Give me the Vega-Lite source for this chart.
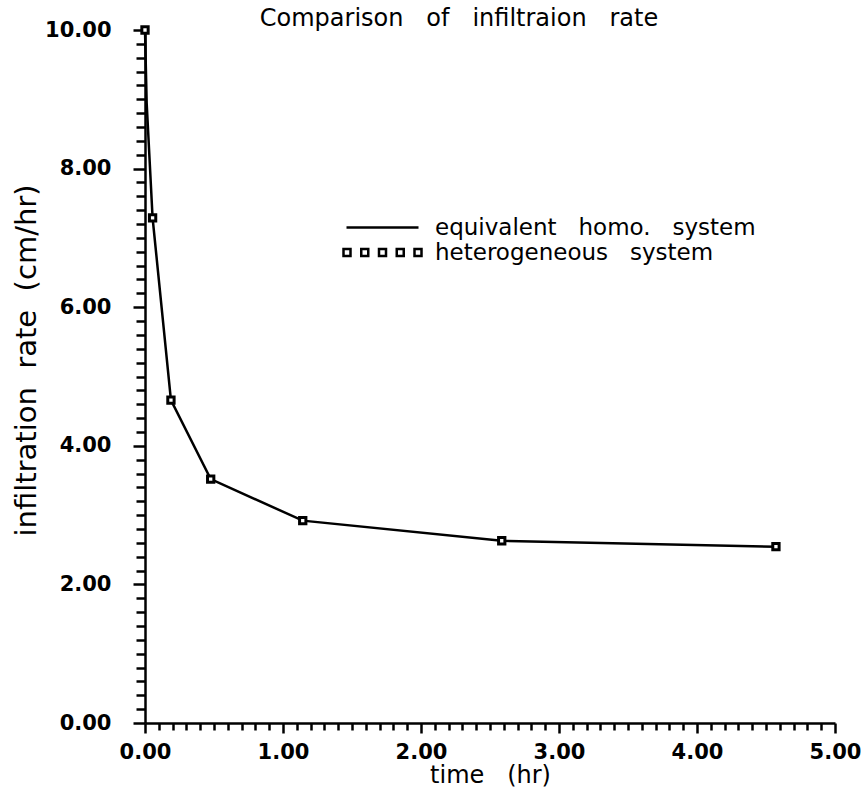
{
  "$schema": "https://vega.github.io/schema/vega-lite/v6.json",
  "width": 690,
  "height": 693,
  "autosize": "none",
  "padding": {"left": 145, "top": 30, "right": 28, "bottom": 77},
  "background": "white",
  "config": {
    "view": {"stroke": null},
    "font": "DejaVu Sans",
    "axis": {"grid": false, "domainColor": "black", "domainWidth": 2.5, "tickColor": "black", "tickWidth": 2.5, "labelColor": "black", "titleColor": "black"}
  },
  "title": {
    "text": "Comparison\u00a0\u00a0 of\u00a0\u00a0 infiltraion\u00a0\u00a0 rate",
    "frame": "group",
    "anchor": "middle",
    "dx": -31,
    "dy": 14,
    "offset": 2,
    "fontSize": 24,
    "fontWeight": "normal",
    "font": "DejaVu Sans",
    "color": "black"
  },
  "datasets": {
    "homo": [
      {"time": 0.0, "rate": 10.0, "series": "equivalent\u00a0\u00a0 homo.\u00a0\u00a0 system"},
      {"time": 0.012, "rate": 8.95, "series": "equivalent\u00a0\u00a0 homo.\u00a0\u00a0 system"},
      {"time": 0.055, "rate": 7.29, "series": "equivalent\u00a0\u00a0 homo.\u00a0\u00a0 system"},
      {"time": 0.188, "rate": 4.66, "series": "equivalent\u00a0\u00a0 homo.\u00a0\u00a0 system"},
      {"time": 0.476, "rate": 3.52, "series": "equivalent\u00a0\u00a0 homo.\u00a0\u00a0 system"},
      {"time": 1.143, "rate": 2.92, "series": "equivalent\u00a0\u00a0 homo.\u00a0\u00a0 system"},
      {"time": 2.585, "rate": 2.63, "series": "equivalent\u00a0\u00a0 homo.\u00a0\u00a0 system"},
      {"time": 4.572, "rate": 2.544, "series": "equivalent\u00a0\u00a0 homo.\u00a0\u00a0 system"}
    ],
    "hetero": [
      {"time": 0.0, "rate": 10.0, "series": "heterogeneous\u00a0\u00a0 system"},
      {"time": 0.055, "rate": 7.29, "series": "heterogeneous\u00a0\u00a0 system"},
      {"time": 0.188, "rate": 4.66, "series": "heterogeneous\u00a0\u00a0 system"},
      {"time": 0.476, "rate": 3.52, "series": "heterogeneous\u00a0\u00a0 system"},
      {"time": 1.143, "rate": 2.92, "series": "heterogeneous\u00a0\u00a0 system"},
      {"time": 2.585, "rate": 2.63, "series": "heterogeneous\u00a0\u00a0 system"},
      {"time": 4.572, "rate": 2.544, "series": "heterogeneous\u00a0\u00a0 system"}
    ]
  },
  "resolve": {"axis": {"x": "independent", "y": "independent"}},
  "layer": [
    {
      "data": {"name": "homo"},
      "mark": {"type": "line", "strokeWidth": 2.5, "color": "black"},
      "encoding": {
        "x": {"field": "time", "type": "quantitative", "scale": {"domain": [0, 5], "nice": false, "zero": false},
          "axis": {"orient": "bottom", "title": "time\u00a0\u00a0 (hr)", "values": [0, 1, 2, 3, 4, 5], "format": ".2f", "tickSize": 10, "labelPadding": 8, "labelFontSize": 21, "labelFontWeight": "bold", "titleFontSize": 24, "titleFontWeight": "normal", "titlePadding": 1, "labelFlush": false}},
        "y": {"field": "rate", "type": "quantitative", "scale": {"domain": [0, 10], "nice": false},
          "axis": {"orient": "left", "title": "infiltration\u00a0 rate\u00a0 (cm/hr)", "values": [0, 2, 4, 6, 8, 10], "format": ".2f", "tickSize": 12, "labelPadding": 22, "labelFontSize": 21, "labelFontWeight": "bold", "titleFontSize": 29, "titleFontWeight": "normal", "titleX": -119, "titleY": 330, "titleAngle": -90, "titleAlign": "center", "titleBaseline": "middle", "labelFlush": false}},
        "color": {"field": "series", "type": "nominal",
          "scale": {"domain": ["equivalent\u00a0\u00a0 homo.\u00a0\u00a0 system", "heterogeneous\u00a0\u00a0 system"], "range": ["black", "black"]},
          "legend": {
            "orient": "none", "legendX": 197, "legendY": 186, "title": null, "padding": 0,
            "labelFontSize": 23, "labelColor": "black", "labelOffset": 70, "labelLimit": 600,
            "symbolSize": 400, "symbolStrokeWidth": 2, "rowPadding": 1,
            "labelFont": "DejaVu Sans",
            "encode": {
              "symbols": {"update": {
                "shape": {"signal": "datum.value == 'heterogeneous\u00a0\u00a0 system' ? 'M-1,-0.35H-0.3V0.35H-1Z M0.775,-0.35H1.475V0.35H0.775Z M2.55,-0.35H3.25V0.35H2.55Z M4.325,-0.35H5.025V0.35H4.325Z M6.1,-0.35H6.8V0.35H6.1Z' : 'M-0.7,0H6.5'"},
                "fill": {"value": "transparent"},
                "stroke": {"value": "black"},
                "strokeWidth": {"value": 2.5}
              }}
            }
          }}
      }
    },
    {
      "data": {"name": "hetero"},
      "mark": {"type": "point", "shape": "square", "size": 40, "filled": false, "strokeWidth": 3, "color": "black", "fill": "white", "fillOpacity": 1},
      "encoding": {
        "x": {"field": "time", "type": "quantitative",
          "axis": {"orient": "bottom", "title": null, "labels": false, "domain": false, "tickSize": 7,
            "values": [0.1, 0.2, 0.3, 0.4, 0.5, 0.6, 0.7, 0.8, 0.9, 1.1, 1.2, 1.3, 1.4, 1.5, 1.6, 1.7, 1.8, 1.9, 2.1, 2.2, 2.3, 2.4, 2.5, 2.6, 2.7, 2.8, 2.9, 3.1, 3.2, 3.3, 3.4, 3.5, 3.6, 3.7, 3.8, 3.9, 4.1, 4.2, 4.3, 4.4, 4.5, 4.6, 4.7, 4.8, 4.9]}},
        "y": {"field": "rate", "type": "quantitative",
          "axis": {"orient": "left", "title": null, "labels": false, "domain": false, "tickSize": 9,
            "values": [0.2, 0.4, 0.6, 0.8, 1.0, 1.2, 1.4, 1.6, 1.8, 2.2, 2.4, 2.6, 2.8, 3.0, 3.2, 3.4, 3.6, 3.8, 4.2, 4.4, 4.6, 4.8, 5.0, 5.2, 5.4, 5.6, 5.8, 6.2, 6.4, 6.6, 6.8, 7.0, 7.2, 7.4, 7.6, 7.8, 8.2, 8.4, 8.6, 8.8, 9.0, 9.2, 9.4, 9.6, 9.8]}},
        "color": {"field": "series", "type": "nominal"}
      }
    }
  ]
}
